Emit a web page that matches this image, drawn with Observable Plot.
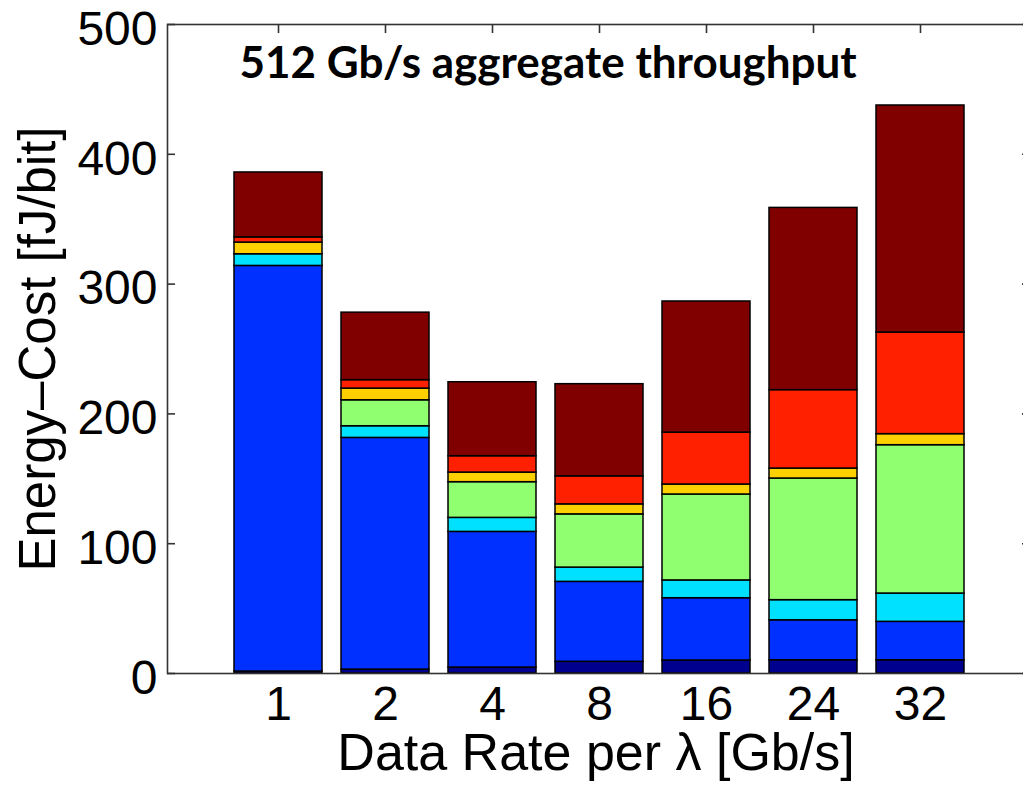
<!DOCTYPE html>
<html>
<head>
<meta charset="utf-8">
<script src="https://cdn.jsdelivr.net/npm/d3@7"></script>
<script src="https://cdn.jsdelivr.net/npm/@observablehq/plot@0.6"></script>
<style>
  html, body { margin: 0; padding: 0; background: #fff; overflow: hidden; }
  #chart svg { display: block; }
</style>
</head>
<body>
<div id="chart"></div>
<script>
// Categories: data rate per wavelength (Gb/s)
const rates = ["1", "2", "4", "8", "16", "24", "32"];

// Stacked energy-cost components (fJ/bit), bottom to top
const seriesNames = ["c1", "c2", "c3", "c4", "c5", "c6", "c7"];
const comp1 = [1.5, 3, 4.6, 9, 10, 10.2, 10.2];
const comp2 = [312.5, 178.5, 104.5, 61.6, 48, 30.8, 29.6];
const comp3 = [9, 9, 10.8, 11, 13.7, 15.5, 21.8];
const comp4 = [0, 20, 27.5, 41, 66.2, 93.7, 114.3];
const comp5 = [9, 9, 7.4, 7.7, 7.7, 7.7, 8.5];
const comp6 = [4, 6.5, 12.6, 21.6, 40, 60.4, 78.3];
const comp7 = [50, 52, 57, 71, 101, 140.4, 174.9];

const seriesColors = ["#00008f", "#0030ff", "#00e0ff", "#90ff70", "#ffd000", "#ff2000", "#800000"];

const yTicks = [0, 100, 200, 300, 400, 500];
const titleText = "512 Gb/s aggregate throughput";
const xLabel = "Data Rate per λ [Gb/s]";
const yLabel = "Energy–Cost [fJ/bit]";

const allSeries = [comp1, comp2, comp3, comp4, comp5, comp6, comp7];
const data = [];
rates.forEach((r, i) => {
  allSeries.forEach((s, k) => {
    data.push({rate: r, series: seriesNames[k], value: s[i]});
  });
});

const W = 1023, H = 787;
const mL = 167, mR = -7, mT = 24, mB = 114;
const plotW = W - mL - mR, plotH = H - mT - mB;
const tickLen = 8;

const chart = Plot.plot({
  width: W,
  height: H,
  marginLeft: mL,
  marginRight: mR,
  marginTop: mT,
  marginBottom: mB,
  style: {fontFamily: "'Liberation Sans', Arial, Helvetica, sans-serif", fontSize: "48px", color: "#000", background: "#fff"},
  x: {type: "band", domain: rates, paddingInner: 0.18, paddingOuter: 0.59, axis: null},
  y: {domain: [0, 500], axis: null},
  color: {domain: seriesNames, range: seriesColors},
  marks: [
    Plot.barY(data, {x: "rate", y: "value", fill: "series", stroke: "#000", strokeWidth: 1.5, order: null}),
    // inward ticks: left, right (y) and top (x)
    Plot.tickY(yTicks, {y: d => d, insetRight: plotW - tickLen, stroke: "#333", strokeWidth: 1.6}),
    Plot.tickY(yTicks, {y: d => d, insetLeft: plotW - tickLen, stroke: "#333", strokeWidth: 1.6}),
    Plot.tickX(rates, {x: d => d, insetBottom: plotH - tickLen - 1, stroke: "#333", strokeWidth: 1.6}),
    Plot.frame({stroke: "#333", strokeWidth: 1.6}),
    Plot.axisY({anchor: "left", ticks: yTicks, tickSize: 0, tickPadding: 10, label: null, dy: 5, fontSize: 48}),
    Plot.axisX({anchor: "bottom", tickSize: 0, tickPadding: 12, label: null, fontSize: 48}),
    Plot.text([xLabel], {frameAnchor: "bottom", dx: -3, dy: 80, fontSize: 52, textAnchor: "middle", lineAnchor: "middle", fill: "#000"}),
    Plot.text([yLabel], {frameAnchor: "left", dx: -129, rotate: -90, fontSize: 51, textAnchor: "middle", lineAnchor: "middle", fill: "#000"}),
    Plot.text([titleText], {frameAnchor: "top-left", dx: 72, dy: 39, textAnchor: "start", lineAnchor: "middle", fontSize: 44, fontWeight: "bold", fontFamily: "Lato, 'Open Sans', sans-serif", fill: "#000"})
  ]
});
document.getElementById("chart").appendChild(chart);
</script>
</body>
</html>
